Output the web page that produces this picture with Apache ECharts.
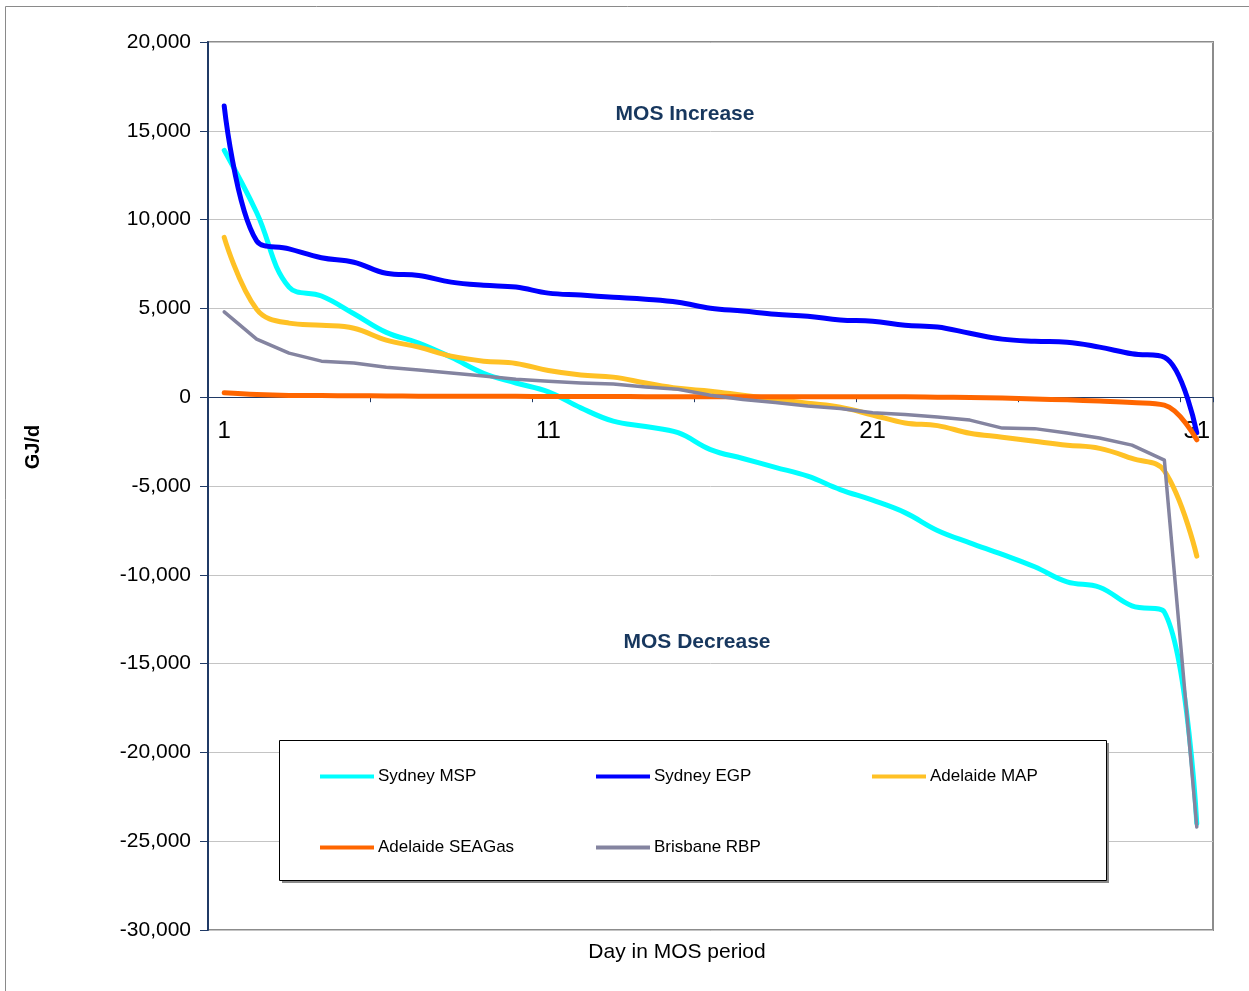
<!DOCTYPE html>
<html>
<head>
<meta charset="utf-8">
<script src="https://cdn.jsdelivr.net/npm/echarts@6/dist/echarts.min.js"></script>
<style>
html,body{margin:0;padding:0;background:#fff;}
#chart{width:1249px;height:991px;}
</style>
</head>
<body>
<div id="chart"></div>
<script>
const days = ['1','2','3','4','5','6','7','8','9','10','11','12','13','14','15','16','17','18','19','20','21','22','23','24','25','26','27','28','29','30','31'];
const yTicks = [-30000,-25000,-20000,-15000,-10000,-5000,0,5000,10000,15000,20000];

const sydneyMSP = [13900,10400,6200,5700,4700,3650,3050,2250,1350,800,300,-600,-1350,-1650,-2000,-2950,-3450,-3950,-4450,-5200,-5800,-6500,-7500,-8200,-8850,-9550,-10400,-10700,-11750,-12100,-24000];
const sydneyEGP = [16400,8800,8350,7850,7600,6980,6850,6480,6300,6200,5860,5750,5630,5520,5350,5010,4850,4670,4560,4350,4280,4050,3950,3600,3270,3150,3100,2820,2450,2250,-2000];
const adelaideMAP = [9000,4950,4170,4050,3880,3210,2820,2310,2030,1900,1500,1250,1130,800,500,340,110,-110,-340,-560,-1000,-1450,-1600,-2030,-2250,-2480,-2700,-2880,-3450,-4150,-8950];
const adelaideSEAGas = [250,150,100,90,80,70,60,50,50,50,40,40,40,30,30,30,30,30,30,20,20,20,0,-20,-50,-100,-150,-220,-300,-450,-2400];
const brisbaneRBP = [4800,3270,2480,2030,1920,1690,1530,1360,1190,1010,900,800,740,580,450,110,-130,-300,-500,-640,-880,-970,-1120,-1290,-1740,-1770,-2020,-2300,-2700,-3540,-24200];

const names = ['Sydney MSP','Sydney EGP','Adelaide MAP','Adelaide SEAGas','Brisbane RBP'];
const colors = ['#00FFFF','#0000FF','#FFC125','#FF6600','#8484A0'];
const values = [sydneyMSP, sydneyEGP, adelaideMAP, adelaideSEAGas, brisbaneRBP];
const widths = [5,5,5,5,3.5];
const smooths = [0.4,0.4,0.4,0.4,false];

const navy = '#203A66';
const FONT = 'Liberation Sans, Arial, sans-serif';

const legendPos = [[320,768],[596,768],[872,768],[320,839],[596,839]];

const chart = echarts.init(document.getElementById('chart'));
const option = {
  animation: false,
  backgroundColor: '#fff',
  grid: {left: 208, right: 36, top: 42, bottom: 61, show: true, borderColor: '#8c8c8c', borderWidth: 2, backgroundColor: 'transparent'},
  xAxis: {
    type: 'category',
    data: days,
    boundaryGap: true,
    axisLine: {onZero: true, lineStyle: {color: navy, width: 1}},
    axisTick: {show: true, interval: 4, length: 5, lineStyle: {color: navy}},
    axisLabel: {interval: 9, fontSize: 24, color: '#000', fontFamily: FONT, margin: -511},
    splitLine: {show: false}
  },
  yAxis: {
    type: 'value',
    min: yTicks[0],
    max: yTicks[yTicks.length - 1],
    interval: 5000,
    axisLine: {show: true, lineStyle: {color: navy, width: 2}},
    axisTick: {show: true, length: 8, lineStyle: {color: navy}},
    axisLabel: {fontSize: 21, color: '#000', fontFamily: FONT, margin: 17,
      formatter: v => v.toLocaleString('en-US')},
    splitLine: {show: true, lineStyle: {color: '#c4c4c4', width: 1}}
  },
  legend: legendPos.map((p, i) => ({
    data: [names[i]],
    left: p[0], top: p[1],
    icon: 'rect', itemWidth: 54, itemHeight: 4,
    itemGap: 0, padding: 0,
    textStyle: {fontSize: 17, color: '#000', fontFamily: FONT, padding: [0,0,0,-1]},
    selectedMode: false
  })),
  graphic: [
    {type: 'rect', z: -10, silent: true, shape: {x: 5.5, y: 6.5, width: 1300, height: 1100}, style: {fill: '#fff', stroke: '#8a8a8a', lineWidth: 1}},
    {type: 'rect', z: 3, silent: true, shape: {x: 282, y: 743, width: 827, height: 140}, style: {fill: '#8a8a8a'}},
    {type: 'rect', z: 3, silent: true, shape: {x: 279.5, y: 740.5, width: 827, height: 140}, style: {fill: '#fff', stroke: '#000', lineWidth: 1}},
    {type: 'text', z: 5, silent: true, x: 685, y: 114, style: {text: 'MOS Increase', fill: '#17375E', font: 'bold 21px ' + FONT, align: 'center', verticalAlign: 'middle'}},
    {type: 'text', z: 5, silent: true, x: 697, y: 642, style: {text: 'MOS Decrease', fill: '#17375E', font: 'bold 21px ' + FONT, align: 'center', verticalAlign: 'middle'}},
    {type: 'text', z: 5, silent: true, x: 33, y: 447, rotation: Math.PI / 2, style: {text: 'GJ/d', fill: '#000', font: 'bold 20px ' + FONT, align: 'center', verticalAlign: 'middle'}},
    {type: 'text', z: 5, silent: true, x: 677, y: 952, style: {text: 'Day in MOS period', fill: '#000', font: '21px ' + FONT, align: 'center', verticalAlign: 'middle'}}
  ],
  series: names.map((n, i) => ({
    name: n,
    type: 'line',
    data: values[i],
    smooth: smooths[i],
    symbol: 'none',
    showSymbol: false,
    color: colors[i],
    itemStyle: {color: colors[i]},
    lineStyle: {color: colors[i], width: widths[i], cap: 'round', join: 'round'},
    z: 2 + i * 0.01
  }))
};
chart.setOption(option);
</script>
</body>
</html>
